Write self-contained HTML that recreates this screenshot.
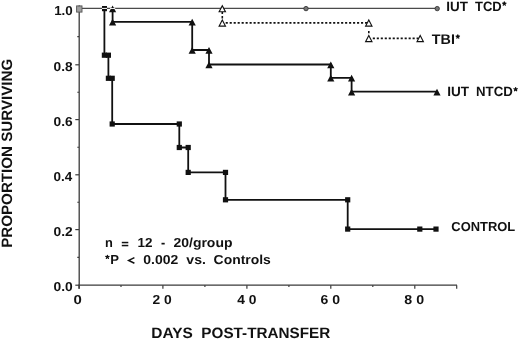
<!DOCTYPE html>
<html><head><meta charset="utf-8"><style>
html,body{margin:0;padding:0;background:#fff;}
svg{display:block;will-change:transform;}
text{font-family:"Liberation Sans",sans-serif;font-weight:bold;text-rendering:geometricPrecision;}
</style></head><body>
<svg width="520" height="340" viewBox="0 0 520 340">
<rect width="520" height="340" fill="#fff"/>
<line x1="79.2" y1="8.5" x2="79.2" y2="288.8" stroke="#3a3a3a" stroke-width="1.3"/>
<line x1="78.4" y1="285.2" x2="457" y2="285.2" stroke="#3a3a3a" stroke-width="1.3"/>
<line x1="75.3" y1="64.8" x2="79" y2="64.8" stroke="#3a3a3a" stroke-width="1.2"/>
<line x1="75.3" y1="119.6" x2="79" y2="119.6" stroke="#3a3a3a" stroke-width="1.2"/>
<line x1="75.3" y1="174.8" x2="79" y2="174.8" stroke="#3a3a3a" stroke-width="1.2"/>
<line x1="75.3" y1="229.6" x2="79" y2="229.6" stroke="#3a3a3a" stroke-width="1.2"/>
<line x1="75.3" y1="285.2" x2="79" y2="285.2" stroke="#3a3a3a" stroke-width="1.2"/>
<line x1="77.3" y1="36.6" x2="79" y2="36.6" stroke="#3a3a3a" stroke-width="1.1"/>
<line x1="77.3" y1="92.2" x2="79" y2="92.2" stroke="#3a3a3a" stroke-width="1.1"/>
<line x1="77.3" y1="147.2" x2="79" y2="147.2" stroke="#3a3a3a" stroke-width="1.1"/>
<line x1="77.3" y1="202.2" x2="79" y2="202.2" stroke="#3a3a3a" stroke-width="1.1"/>
<line x1="77.3" y1="257.4" x2="79" y2="257.4" stroke="#3a3a3a" stroke-width="1.1"/>
<line x1="79.0" y1="285.2" x2="79.0" y2="288.8" stroke="#3a3a3a" stroke-width="1.2"/>
<line x1="121.0" y1="285.2" x2="121.0" y2="287.0" stroke="#3a3a3a" stroke-width="1.2"/>
<line x1="162.9" y1="285.2" x2="162.9" y2="288.8" stroke="#3a3a3a" stroke-width="1.2"/>
<line x1="204.9" y1="285.2" x2="204.9" y2="287.0" stroke="#3a3a3a" stroke-width="1.2"/>
<line x1="246.9" y1="285.2" x2="246.9" y2="288.8" stroke="#3a3a3a" stroke-width="1.2"/>
<line x1="288.9" y1="285.2" x2="288.9" y2="287.0" stroke="#3a3a3a" stroke-width="1.2"/>
<line x1="330.8" y1="285.2" x2="330.8" y2="288.8" stroke="#3a3a3a" stroke-width="1.2"/>
<line x1="372.8" y1="285.2" x2="372.8" y2="287.0" stroke="#3a3a3a" stroke-width="1.2"/>
<line x1="414.8" y1="285.2" x2="414.8" y2="288.8" stroke="#3a3a3a" stroke-width="1.2"/>
<line x1="456.7" y1="285.2" x2="456.7" y2="288.8" stroke="#3a3a3a" stroke-width="1.2"/>
<text x="54.16" y="14.50" font-size="13" textLength="18.59" lengthAdjust="spacingAndGlyphs" fill="#111">1.0</text>
<text x="53.57" y="70.80" font-size="13" textLength="19.06" lengthAdjust="spacingAndGlyphs" fill="#111">0.8</text>
<text x="53.56" y="125.60" font-size="13" textLength="19.13" lengthAdjust="spacingAndGlyphs" fill="#111">0.6</text>
<text x="53.58" y="180.80" font-size="13" textLength="18.69" lengthAdjust="spacingAndGlyphs" fill="#111">0.4</text>
<text x="53.56" y="235.60" font-size="13" textLength="19.19" lengthAdjust="spacingAndGlyphs" fill="#111">0.2</text>
<text x="53.56" y="291.20" font-size="13" textLength="19.21" lengthAdjust="spacingAndGlyphs" fill="#111">0.0</text>
<text x="73.52" y="303.90" font-size="13" textLength="8.30" lengthAdjust="spacingAndGlyphs" fill="#111">0</text>
<text x="152.52" y="303.90" font-size="13" textLength="19.25" lengthAdjust="spacingAndGlyphs" fill="#111">2 0</text>
<text x="237.29" y="303.90" font-size="13" textLength="19.17" lengthAdjust="spacingAndGlyphs" fill="#111">4 0</text>
<text x="320.58" y="303.90" font-size="13" textLength="19.50" lengthAdjust="spacingAndGlyphs" fill="#111">6 0</text>
<text x="404.35" y="303.90" font-size="13" textLength="19.74" lengthAdjust="spacingAndGlyphs" fill="#111">8 0</text>
<text x="151.36" y="338.00" font-size="15" textLength="41.53" lengthAdjust="spacingAndGlyphs" fill="#111">DAYS</text>
<text x="201.38" y="338.00" font-size="15" textLength="128.94" lengthAdjust="spacingAndGlyphs" fill="#111">POST-TRANSFER</text>
<text transform="translate(12.3 247.81) rotate(-90)" x="0" y="0" font-size="15" textLength="189.05" lengthAdjust="spacingAndGlyphs" fill="#111">PROPORTION SURVIVING</text>
<text x="446.30" y="10.60" font-size="13.5" textLength="21.65" lengthAdjust="spacingAndGlyphs" fill="#111">IUT</text>
<text x="475.06" y="10.60" font-size="13.5" textLength="26.69" lengthAdjust="spacingAndGlyphs" fill="#111">TCD</text>
<path d="M504.30,3.70 L504.30,1.95 M504.30,3.70 L505.96,3.16 M504.30,3.70 L505.33,5.12 M504.30,3.70 L503.27,5.12 M504.30,3.70 L502.64,3.16 " stroke="#111" stroke-width="1.25" stroke-linecap="round" fill="none"/><circle cx="504.3" cy="3.7" r="1.1" fill="#111"/>
<text x="431.84" y="44.00" font-size="14" textLength="23.12" lengthAdjust="spacingAndGlyphs" fill="#111">TBI</text>
<path d="M457.80,36.60 L457.80,34.85 M457.80,36.60 L459.46,36.06 M457.80,36.60 L458.83,38.02 M457.80,36.60 L456.77,38.02 M457.80,36.60 L456.14,36.06 " stroke="#111" stroke-width="1.25" stroke-linecap="round" fill="none"/><circle cx="457.8" cy="36.6" r="1.1" fill="#111"/>
<text x="447.29" y="96.30" font-size="13.5" textLength="21.86" lengthAdjust="spacingAndGlyphs" fill="#111">IUT</text>
<text x="476.01" y="96.30" font-size="13.5" textLength="36.75" lengthAdjust="spacingAndGlyphs" fill="#111">NTCD</text>
<path d="M515.60,89.30 L515.60,87.55 M515.60,89.30 L517.26,88.76 M515.60,89.30 L516.63,90.72 M515.60,89.30 L514.57,90.72 M515.60,89.30 L513.94,88.76 " stroke="#111" stroke-width="1.25" stroke-linecap="round" fill="none"/><circle cx="515.6" cy="89.3" r="1.1" fill="#111"/>
<text x="451.37" y="231.00" font-size="13" textLength="63.83" lengthAdjust="spacingAndGlyphs" fill="#111">CONTROL</text>
<text x="104.95" y="246.70" font-size="13" textLength="7.84" lengthAdjust="spacingAndGlyphs" fill="#111">n</text>
<rect x="121.8" y="241.8" width="6.5" height="1.5" fill="#111"/><rect x="121.8" y="244.8" width="6.5" height="1.5" fill="#111"/>
<text x="137.45" y="246.90" font-size="13" textLength="14.99" lengthAdjust="spacingAndGlyphs" fill="#111">12</text>
<rect x="161.5" y="242.8" width="3.2" height="1.7" fill="#111"/>
<text x="173.51" y="246.90" font-size="13" textLength="58.96" lengthAdjust="spacingAndGlyphs" fill="#111">20/group</text>
<path d="M107.40,257.00 L107.40,255.25 M107.40,257.00 L109.06,256.46 M107.40,257.00 L108.43,258.42 M107.40,257.00 L106.37,258.42 M107.40,257.00 L105.74,256.46 " stroke="#111" stroke-width="1.25" stroke-linecap="round" fill="none"/><circle cx="107.4" cy="257.0" r="1.1" fill="#111"/>
<text x="110.22" y="264.00" font-size="13" textLength="8.72" lengthAdjust="spacingAndGlyphs" fill="#111">P</text>
<path d="M134.4,257.6 L128.7,260.4 L134.4,263.2" fill="none" stroke="#111" stroke-width="1.55" stroke-linejoin="miter"/>
<text x="143.25" y="264.00" font-size="13" textLength="35.01" lengthAdjust="spacingAndGlyphs" fill="#111">0.002</text>
<text x="186.34" y="264.00" font-size="13" textLength="19.53" lengthAdjust="spacingAndGlyphs" fill="#111">vs.</text>
<text x="213.63" y="264.00" font-size="13" textLength="57.24" lengthAdjust="spacingAndGlyphs" fill="#111">Controls</text>
<line x1="79" y1="8.4" x2="437" y2="8.4" stroke="#4a4a4a" stroke-width="1.2"/>
<path d="M222.3,12.0 V14.0 M222.3,16.0 V18.5" stroke="#111" stroke-width="1.6"/>
<line x1="225.7" y1="22.8" x2="367.5" y2="22.8" stroke="#111" stroke-width="1.75" stroke-dasharray="2.1 1.88"/>
<path d="M368.8,30.9 V33.3" stroke="#111" stroke-width="1.6"/>
<line x1="372.8" y1="38.3" x2="418.5" y2="38.3" stroke="#111" stroke-width="1.75" stroke-dasharray="2.1 1.88"/>
<path d="M112.6,8.4 L112.6,21.8 L192.2,21.8 L192.2,50 L209,50 L209,64.5 L330.8,64.5 L330.8,77.8 L351.6,77.8 L351.6,91.7 L437,91.7" fill="none" stroke="#111" stroke-width="1.8"/>
<path d="M104.4,8.4 L104.4,55.2 L108.4,55.2 L108.4,78.3 L112.2,78.3 L112.2,124 L179.3,124 L179.3,147.5 L188.2,147.5 L188.2,172.4 L225.5,172.4 L225.5,199.8 L347.7,199.8 L347.7,229.1 L436,229.1" fill="none" stroke="#111" stroke-width="1.8"/>
<rect x="101.8" y="52.6" width="5.2" height="5.2" fill="#111"/>
<rect x="105.8" y="52.6" width="5.2" height="5.2" fill="#111"/>
<rect x="105.8" y="75.7" width="5.2" height="5.2" fill="#111"/>
<rect x="109.6" y="75.7" width="5.2" height="5.2" fill="#111"/>
<rect x="109.6" y="121.4" width="5.2" height="5.2" fill="#111"/>
<rect x="176.7" y="121.4" width="5.2" height="5.2" fill="#111"/>
<rect x="176.7" y="144.9" width="5.2" height="5.2" fill="#111"/>
<rect x="185.6" y="144.9" width="5.2" height="5.2" fill="#111"/>
<rect x="185.6" y="169.8" width="5.2" height="5.2" fill="#111"/>
<rect x="222.9" y="169.8" width="5.2" height="5.2" fill="#111"/>
<rect x="222.9" y="197.2" width="5.2" height="5.2" fill="#111"/>
<rect x="345.1" y="197.2" width="5.2" height="5.2" fill="#111"/>
<rect x="345.1" y="226.5" width="5.2" height="5.2" fill="#111"/>
<rect x="417.2" y="226.5" width="5.2" height="5.2" fill="#111"/>
<rect x="433.4" y="226.5" width="5.2" height="5.2" fill="#111"/>
<rect x="102" y="6" width="5" height="5.2" fill="#111"/><rect x="102" y="7.9" width="5" height="1.1" fill="#e8e8e8"/>
<path d="M112.60,18.80 L116.20,25.60 L109.00,25.60 Z" fill="#111" stroke="none" stroke-width="0"/>
<path d="M192.20,18.80 L195.80,25.60 L188.60,25.60 Z" fill="#111" stroke="none" stroke-width="0"/>
<path d="M192.20,47.00 L195.80,53.80 L188.60,53.80 Z" fill="#111" stroke="none" stroke-width="0"/>
<path d="M209.00,47.00 L212.60,53.80 L205.40,53.80 Z" fill="#111" stroke="none" stroke-width="0"/>
<path d="M209.00,61.50 L212.60,68.30 L205.40,68.30 Z" fill="#111" stroke="none" stroke-width="0"/>
<path d="M330.80,61.50 L334.40,68.30 L327.20,68.30 Z" fill="#111" stroke="none" stroke-width="0"/>
<path d="M330.80,74.80 L334.40,81.60 L327.20,81.60 Z" fill="#111" stroke="none" stroke-width="0"/>
<path d="M351.60,74.80 L355.20,81.60 L348.00,81.60 Z" fill="#111" stroke="none" stroke-width="0"/>
<path d="M351.60,88.70 L355.20,95.50 L348.00,95.50 Z" fill="#111" stroke="none" stroke-width="0"/>
<path d="M437.00,88.70 L440.60,95.50 L433.40,95.50 Z" fill="#111" stroke="none" stroke-width="0"/>
<path d="M112.60,5.40 L116.20,12.20 L109.00,12.20 Z" fill="#111" stroke="none" stroke-width="0"/>
<rect x="110" y="8" width="5.2" height="1" fill="#e8e8e8"/>
<path d="M222.30,5.70 L225.45,11.70 L219.15,11.70 Z" fill="#fff" stroke="#111" stroke-width="1.15"/>
<path d="M222.30,20.10 L225.45,26.10 L219.15,26.10 Z" fill="#fff" stroke="#111" stroke-width="1.15"/>
<path d="M368.80,20.10 L371.95,26.10 L365.65,26.10 Z" fill="#fff" stroke="#111" stroke-width="1.15"/>
<path d="M368.80,35.60 L371.95,41.60 L365.65,41.60 Z" fill="#fff" stroke="#111" stroke-width="1.15"/>
<path d="M420.20,35.60 L423.35,41.60 L417.05,41.60 Z" fill="#fff" stroke="#111" stroke-width="1.15"/>
<circle cx="306" cy="8.6" r="2.2" fill="#777" stroke="#333" stroke-width="0.9"/>
<circle cx="437.2" cy="8.6" r="2.2" fill="#777" stroke="#333" stroke-width="0.9"/>
<rect x="76.6" y="5.9" width="5.4" height="6.2" fill="#a0a0a0" stroke="#555" stroke-width="0.9"/><path d="M79.2,4.9 L80.3,6.3 L78.1,6.3 Z" fill="#555"/>
</svg>
</body></html>
